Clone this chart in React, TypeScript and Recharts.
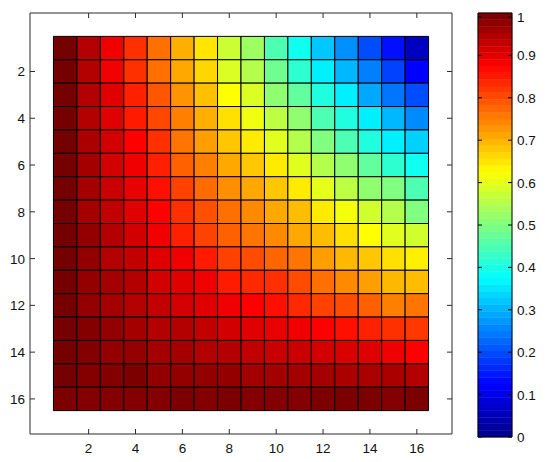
import { ScatterChart, Scatter, XAxis, YAxis, ReferenceArea } from 'recharts';

// grid positions and tick labels
const columns = [1, 2, 3, 4, 5, 6, 7, 8, 9, 10, 11, 12, 13, 14, 15, 16];
const axisTicks = [2, 4, 6, 8, 10, 12, 14, 16];
const colorbarTicks = [0, 0.1, 0.2, 0.3, 0.4, 0.5, 0.6, 0.7, 0.8, 0.9, 1];

// cell values, one array per matrix row
const r01 = [1.0, 0.944, 0.888, 0.828, 0.765, 0.703, 0.65, 0.575, 0.53, 0.45, 0.39, 0.32, 0.265, 0.2, 0.14, 0.06];
const r02 = [1.0, 0.944, 0.888, 0.828, 0.765, 0.71, 0.665, 0.59, 0.55, 0.485, 0.42, 0.36, 0.305, 0.25, 0.19, 0.125];
const r03 = [1.0, 0.944, 0.902, 0.844, 0.79, 0.73, 0.687, 0.625, 0.59, 0.515, 0.47, 0.405, 0.36, 0.29, 0.24, 0.2];
const r04 = [1.0, 0.944, 0.902, 0.85, 0.805, 0.75, 0.703, 0.655, 0.61, 0.56, 0.515, 0.45, 0.405, 0.36, 0.305, 0.26];
const r05 = [1.0, 0.951, 0.916, 0.875, 0.828, 0.76, 0.72, 0.68, 0.645, 0.595, 0.55, 0.5, 0.45, 0.405, 0.36, 0.33];
const r06 = [1.0, 0.958, 0.916, 0.888, 0.844, 0.78, 0.75, 0.71, 0.68, 0.645, 0.595, 0.55, 0.515, 0.47, 0.42, 0.39];
const r07 = [1.0, 0.958, 0.923, 0.895, 0.86, 0.81, 0.77, 0.735, 0.71, 0.68, 0.645, 0.6, 0.56, 0.515, 0.5, 0.45];
const r08 = [1.0, 0.958, 0.93, 0.902, 0.875, 0.828, 0.797, 0.765, 0.74, 0.71, 0.69, 0.645, 0.615, 0.58, 0.55, 0.5];
const r09 = [1.0, 0.972, 0.944, 0.916, 0.888, 0.844, 0.81, 0.78, 0.76, 0.74, 0.71, 0.69, 0.655, 0.625, 0.595, 0.58];
const r10 = [1.0, 0.972, 0.944, 0.93, 0.902, 0.888, 0.85, 0.81, 0.8, 0.775, 0.76, 0.72, 0.695, 0.68, 0.655, 0.64];
const r11 = [1.0, 0.972, 0.958, 0.944, 0.916, 0.902, 0.888, 0.85, 0.835, 0.828, 0.8, 0.765, 0.74, 0.72, 0.695, 0.69];
const r12 = [1.0, 0.972, 0.958, 0.944, 0.93, 0.916, 0.902, 0.888, 0.875, 0.86, 0.835, 0.81, 0.8, 0.78, 0.75, 0.76];
const r13 = [1.0, 0.987, 0.972, 0.958, 0.944, 0.944, 0.93, 0.916, 0.902, 0.895, 0.888, 0.875, 0.86, 0.844, 0.828, 0.82];
const r14 = [1.0, 0.987, 0.972, 0.972, 0.958, 0.958, 0.944, 0.944, 0.93, 0.923, 0.923, 0.916, 0.909, 0.902, 0.888, 0.875];
const r15 = [1.0, 0.987, 0.987, 0.993, 0.972, 0.972, 0.972, 0.972, 0.958, 0.958, 0.958, 0.958, 0.951, 0.951, 0.951, 0.944];
const r16 = [0.993, 0.987, 0.987, 0.987, 0.987, 0.993, 0.987, 0.993, 0.987, 0.987, 0.987, 0.993, 0.993, 0.993, 0.987, 0.993];

const rows = [r01, r02, r03, r04, r05, r06, r07, r08, r09, r10, r11, r12, r13, r14, r15, r16];

const FONT = '"Liberation Sans", Arial, sans-serif';
const FRAME = '#2b2b2b';

// jet colormap
const jetStops: [number, number[]][] = [
  [0, [0, 0, 0.53]],
  [0.125, [0, 0, 1]],
  [0.375, [0, 1, 1]],
  [0.625, [1, 1, 0]],
  [0.875, [1, 0, 0]],
  [1, [0.46, 0, 0]],
];

function jet(v: number) {
  const t = Math.max(0, Math.min(1, v));
  let i = 0;
  while (i < jetStops.length - 2 && t > jetStops[i + 1][0]) i++;
  const [t0, c0] = jetStops[i];
  const [t1, c1] = jetStops[i + 1];
  const f = (t - t0) / (t1 - t0);
  const c = c0.map((a, k) => Math.round((a + (c1[k] - a) * f) * 255));
  return `rgb(${c[0]},${c[1]},${c[2]})`;
}

// cell centres, used so the chart has data for its numeric axes
const cells = rows.flatMap((row, i) => row.map((v, j) => ({ x: columns[j], y: columns[i], v })));
const bands = Array.from({ length: 64 }, (_, k) => k);
const bandPoints = bands.map((k) => ({ x: 0.5, y: (k + 0.5) / 64 }));

const NoShape = () => <g />;

const BottomTick = (props: any) => {
  const { x, y, payload } = props;
  return (
    <g>
      <line x1={x} x2={x} y1={y} y2={y - 5} stroke={FRAME} />
      <text x={x} y={y + 19} textAnchor="middle" fontSize={13.5} fontFamily={FONT} fill="#111">
        {payload.value}
      </text>
    </g>
  );
};

const TopTick = (props: any) => {
  const { x, y } = props;
  return <line x1={x} x2={x} y1={y} y2={y + 5} stroke={FRAME} />;
};

const LeftTick = (props: any) => {
  const { x, y, payload } = props;
  return (
    <g>
      <line x1={x} x2={x + 5} y1={y} y2={y} stroke={FRAME} />
      <text x={x - 5} y={y + 5} textAnchor="end" fontSize={13.5} fontFamily={FONT} fill="#111">
        {payload.value}
      </text>
    </g>
  );
};

const RightTick = (props: any) => {
  const { x, y } = props;
  return <line x1={x} x2={x - 5} y1={y} y2={y} stroke={FRAME} />;
};

const BarRightTick = (props: any) => {
  const { x, y, payload } = props;
  return (
    <g>
      <line x1={x} x2={x - 4} y1={y} y2={y} stroke="#000" />
      <text x={x + 5} y={y + 5} textAnchor="start" fontSize={13.5} fontFamily={FONT} fill="#111">
        {payload.value}
      </text>
    </g>
  );
};

const BarLeftTick = (props: any) => {
  const { x, y } = props;
  return <line x1={x} x2={x + 4} y1={y} y2={y} stroke="#000" />;
};

export default function App() {
  return (
    <div style={{ position: 'relative', width: 534, height: 446 }}>
      <div style={{ position: 'absolute', left: 0, top: 0 }}>
        <ScatterChart width={460} height={454} margin={{ top: 4, right: 15, bottom: 8, left: 0 }}>
          <XAxis
            xAxisId={0}
            dataKey="x"
            type="number"
            domain={[-0.5, 17.5]}
            ticks={axisTicks}
            allowDataOverflow
            height={20}
            tickSize={0}
            tickMargin={0}
            tickLine={false}
            tick={<BottomTick />}
            axisLine={{ stroke: FRAME }}
          />
          <XAxis
            xAxisId="top"
            orientation="top"
            dataKey="x"
            type="number"
            domain={[-0.5, 17.5]}
            ticks={axisTicks}
            allowDataOverflow
            height={1}
            tickSize={0}
            tickMargin={0}
            tickLine={false}
            tick={<TopTick />}
            axisLine={{ stroke: FRAME }}
          />
          <YAxis
            yAxisId={0}
            dataKey="y"
            type="number"
            reversed
            domain={[-0.5, 17.5]}
            ticks={axisTicks}
            allowDataOverflow
            width={22}
            tickSize={0}
            tickMargin={0}
            tickLine={false}
            tick={<LeftTick />}
            axisLine={{ stroke: FRAME }}
          />
          <YAxis
            yAxisId="right"
            orientation="right"
            dataKey="y"
            type="number"
            reversed
            domain={[-0.5, 17.5]}
            ticks={axisTicks}
            allowDataOverflow
            width={1}
            tickSize={0}
            tickMargin={0}
            tickLine={false}
            tick={<RightTick />}
            axisLine={{ stroke: FRAME }}
          />
          {rows.map((row, i) =>
            row.map((v, j) => (
              <ReferenceArea
                key={`c-${i}-${j}`}
                xAxisId={0}
                yAxisId={0}
                x1={columns[j] - 0.5}
                x2={columns[j] + 0.5}
                y1={columns[i] - 0.5}
                y2={columns[i] + 0.5}
                fill={jet(v)}
                fillOpacity={1}
                stroke="#000"
                strokeWidth={1}
              />
            ))
          )}
          <Scatter xAxisId={0} yAxisId={0} data={cells} shape={NoShape} isAnimationActive={false} />
        </ScatterChart>
      </div>
      <div style={{ position: 'absolute', left: 469, top: 0 }}>
        <ScatterChart width={65} height={446} margin={{ top: 4, right: 0, bottom: 16, left: 0 }}>
          <XAxis xAxisId={0} dataKey="x" type="number" domain={[0, 1]} height={1} tick={false} tickLine={false} axisLine={{ stroke: '#000' }} />
          <XAxis xAxisId="top" orientation="top" dataKey="x" type="number" domain={[0, 1]} height={1} tick={false} tickLine={false} axisLine={{ stroke: '#000' }} />
          <YAxis
            yAxisId={0}
            orientation="right"
            dataKey="y"
            type="number"
            domain={[0, 1]}
            ticks={colorbarTicks}
            allowDataOverflow
            width={30}
            tickSize={0}
            tickMargin={0}
            tickLine={false}
            tick={<BarRightTick />}
            axisLine={{ stroke: '#000' }}
          />
          <YAxis
            yAxisId="left"
            orientation="left"
            dataKey="y"
            type="number"
            domain={[0, 1]}
            ticks={colorbarTicks}
            allowDataOverflow
            width={1}
            tickSize={0}
            tickMargin={0}
            tickLine={false}
            tick={<BarLeftTick />}
            axisLine={{ stroke: '#000' }}
          />
          {bands.map((k) => (
            <ReferenceArea
              key={`b-${k}`}
              xAxisId={0}
              yAxisId={0}
              x1={0}
              x2={1}
              y1={k / 64}
              y2={(k + 1) / 64}
              fill={jet((k + 0.5) / 64)}
              fillOpacity={1}
              stroke={jet((k + 0.5) / 64)}
              strokeWidth={0.5}
            />
          ))}
          <Scatter xAxisId={0} yAxisId={0} data={bandPoints} shape={NoShape} isAnimationActive={false} />
        </ScatterChart>
      </div>
    </div>
  );
}
